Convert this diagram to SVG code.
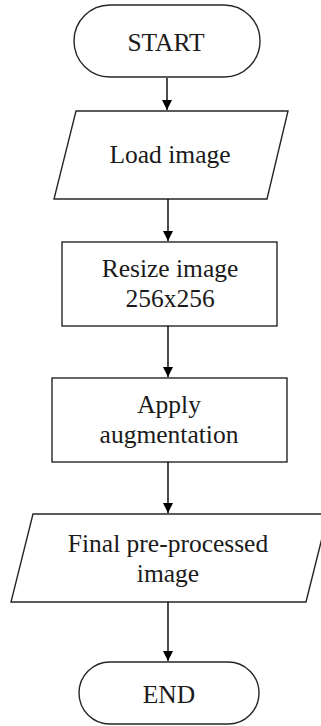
<svg xmlns="http://www.w3.org/2000/svg" width="321" height="726" viewBox="0 0 321 726">
<defs>
<marker id="arr" markerWidth="10" markerHeight="11" refX="10" refY="5" orient="auto" markerUnits="userSpaceOnUse" viewBox="0 0 10 10">
<path d="M0,0 L10,5 L0,10 Z" fill="#000"/>
</marker>
</defs>
<style>
.s{fill:#fff;stroke:#262626;stroke-width:1.4}
.t{font-family:"Liberation Serif","Times New Roman",serif;font-size:25.5px;fill:#1a1a1a;text-anchor:middle}
.c{stroke:#000;stroke-width:1.4;fill:none;marker-end:url(#arr)}
</style>
<rect width="321" height="726" fill="#fff"/>
<g id="start">
<rect class="s" x="74" y="5" width="186" height="72" rx="36"/>
<text class="t" x="166" y="51">START</text>
</g>
<g id="load">
<polygon class="s" points="76,111 288,111 267,199 54,199"/>
<text class="t" x="170" y="163">Load image</text>
</g>
<g id="resize">
<rect class="s" x="62" y="242" width="215" height="84"/>
<text class="t" x="170" y="277">Resize image</text>
<text class="t" x="170" y="307">256x256</text>
</g>
<g id="augment">
<rect class="s" x="52" y="378" width="235" height="84"/>
<text class="t" x="169" y="413">Apply</text>
<text class="t" x="169" y="443">augmentation</text>
</g>
<g id="final">
<polygon class="s" points="33,514 328,514 306,602 11,602"/>
<text class="t" x="168" y="552">Final pre-processed</text>
<text class="t" x="168" y="582">image</text>
</g>
<g id="end">
<rect class="s" x="79" y="662" width="180" height="62" rx="31"/>
<text class="t" x="169" y="703">END</text>
</g>
<g id="connectors">
<line class="c" x1="167" y1="78" x2="167" y2="110"/>
<line class="c" x1="168" y1="199" x2="168" y2="241"/>
<line class="c" x1="168" y1="326" x2="168" y2="377"/>
<line class="c" x1="168" y1="462" x2="168" y2="513"/>
<line class="c" x1="168" y1="602" x2="168" y2="661"/>
</g>
</svg>
